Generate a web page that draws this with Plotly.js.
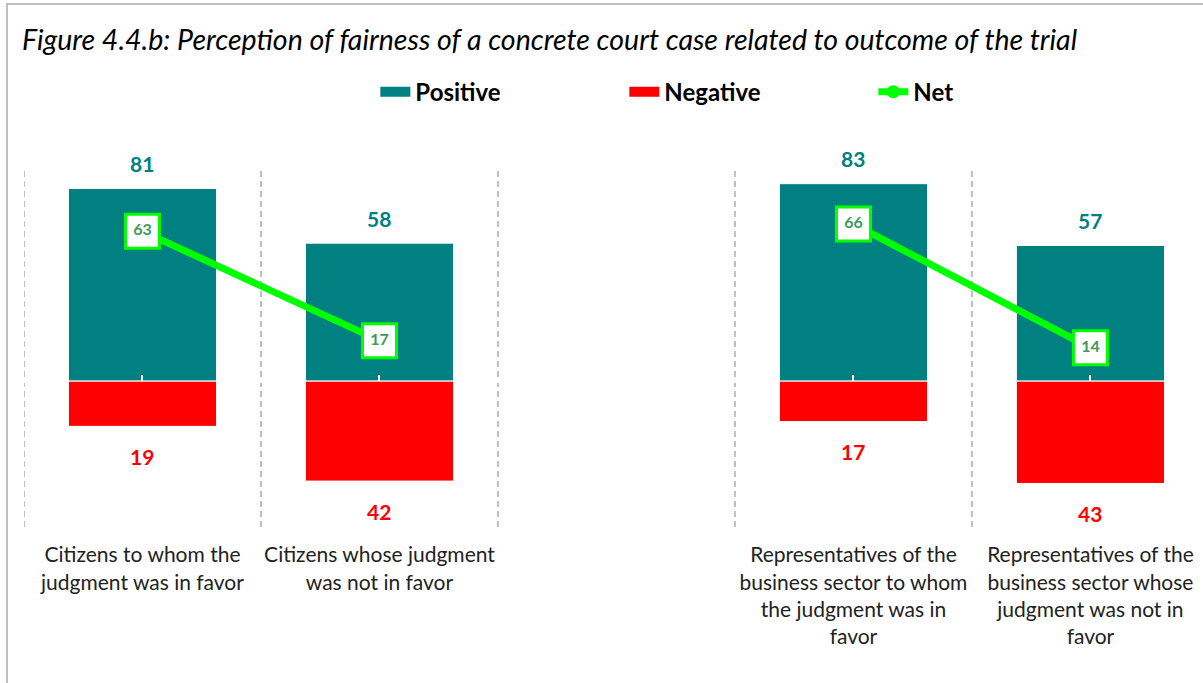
<!DOCTYPE html>
<html>
<head>
<meta charset="utf-8">
<script src="https://cdn.plot.ly/plotly-3.0.1.min.js"></script>
<style>
  html, body { margin: 0; padding: 0; background: #fff; overflow: hidden; }
  #chart { position: absolute; left: 6px; top: 3px; width: 1195px; height: 678px;
           border-left: 2px solid #bfbfbf; border-top: 2px solid #bfbfbf; }
</style>
</head>
<body>
<div id="chart"></div>
<script>
const xPos = [0, 1, 3, 4];
const categories = [
  "Citizens to whom the<br>judgment was in favor",
  "Citizens whose judgment<br>was not in favor",
  "Representatives of the<br>business sector to whom<br>the judgment was in<br>favor",
  "Representatives of the<br>business sector whose<br>judgment was not in<br>favor"
];
const positive = [81, 58, 83, 57];
const negative = [19, 42, 17, 43];
const net = [63, 17, 66, 14];
const boundaries = [-0.5, 0.5, 1.5, 2.5, 3.5, 4.5];

const TEAL = "#008080", RED = "#FF0000", LIME = "#00FF00";
const FONT = "Lato, 'Open Sans', sans-serif";

const netMarker = { symbol: "square", size: 34, color: "#ffffff", line: { color: LIME, width: 3 } };
const netText = { family: FONT, size: 16, color: "#3d9a5b", weight: "bold" };

const traces = [
  { type: "bar", name: "Positive", x: xPos, y: positive, width: 0.625, showlegend: false,
    marker: { color: TEAL, line: { color: "#ffffff", width: 1 } }, hoverinfo: "skip" },
  { type: "bar", name: "Negative", x: xPos, y: negative.map(v => -v), width: 0.625, showlegend: false,
    marker: { color: RED, line: { color: "#ffffff", width: 1 } }, hoverinfo: "skip" },
  { type: "scatter", name: "Net", x: xPos.slice(0, 2), y: net.slice(0, 2), mode: "lines+markers+text",
    showlegend: false, cliponaxis: false, line: { color: LIME, width: 7 }, marker: netMarker,
    text: net.slice(0, 2).map(String), textposition: "middle center", textfont: netText },
  { type: "scatter", name: "Net", x: xPos.slice(2), y: net.slice(2), mode: "lines+markers+text",
    showlegend: false, cliponaxis: false, line: { color: LIME, width: 7 }, marker: netMarker,
    text: net.slice(2).map(String), textposition: "middle center", textfont: netText },
  // legend entries
  { type: "scatter", name: "Positive", x: [null], y: [null], mode: "lines", line: { color: TEAL, width: 16 } },
  { type: "scatter", name: "Negative", x: [null], y: [null], mode: "lines", line: { color: RED, width: 16 } },
  { type: "scatter", name: "Net", x: [null], y: [null], mode: "lines+markers",
    line: { color: LIME, width: 7 }, marker: { symbol: "circle", size: 13, color: LIME } },
  { type: "scatter", x: [null], y: [null], xaxis: "x2", showlegend: false, hoverinfo: "skip" }
];

const annotations = [];
xPos.forEach((x, i) => {
  annotations.push({ x: x, y: positive[i], xref: "x", yref: "y", text: String(positive[i]),
    showarrow: false, yshift: 25, font: { family: FONT, size: 21, color: TEAL, weight: "bold" } });
  annotations.push({ x: x, y: -negative[i], xref: "x", yref: "y", text: String(negative[i]),
    showarrow: false, yshift: -30, font: { family: FONT, size: 21, color: RED, weight: "bold" } });
});

const shapes = boundaries.map(b => ({
  type: "line", xref: "x", yref: "paper", x0: b, x1: b, y0: 0, y1: 1, layer: "below",
  line: { color: "#bfbfbf", width: 2, dash: "6px,4px" }
}));

const yMin = -61.3, yMax = 90;
const layout = {
  width: 1195, height: 678,
  margin: { l: 16, r: 0, t: 162, b: 156, autoexpand: false },
  paper_bgcolor: "#ffffff", plot_bgcolor: "#ffffff",
  font: { family: FONT, color: "#000000" },
  barmode: "relative",
  title: { text: "Figure 4.4.b: Perception of fairness of a concrete court case related to outcome of the trial",
    xref: "container", yref: "container", x: 0.0117, xanchor: "left", y: 0.948, yanchor: "middle",
    font: { family: FONT, size: 28.5, style: "italic", color: "#000000" } },
  showlegend: true,
  legend: { orientation: "h", x: 0.298, xanchor: "left", y: 1.208, yanchor: "middle",
    entrywidth: 204, entrywidthmode: "pixels", traceorder: "normal",
    font: { family: FONT, size: 24, color: "#000000", weight: "bold" } },
  xaxis: { range: [-0.5, 4.475], tickmode: "array", tickvals: xPos, ticktext: categories,
    showgrid: false, zeroline: false, showline: false, ticks: "outside", ticklen: 9,
    tickcolor: "rgba(0,0,0,0)", tickfont: { family: FONT, size: 21, color: "#222222" }, fixedrange: true },
  xaxis2: { overlaying: "x", anchor: "free", position: (0 - yMin) / (yMax - yMin), side: "bottom",
    range: [-0.5, 4.475], tickmode: "array", tickvals: xPos, ticks: "inside", ticklen: 6,
    tickwidth: 2, tickcolor: "#ffffff", showticklabels: false, showgrid: false, zeroline: false,
    showline: false, layer: "above traces" },
  yaxis: { range: [yMin, yMax], showticklabels: false, showgrid: false, zeroline: true,
    zerolinecolor: "#ffffff", zerolinewidth: 3, layer: "above traces", fixedrange: true },
  annotations: annotations,
  shapes: shapes
};

Plotly.newPlot("chart", traces, layout, { displayModeBar: false, staticPlot: true });
</script>
</body>
</html>
